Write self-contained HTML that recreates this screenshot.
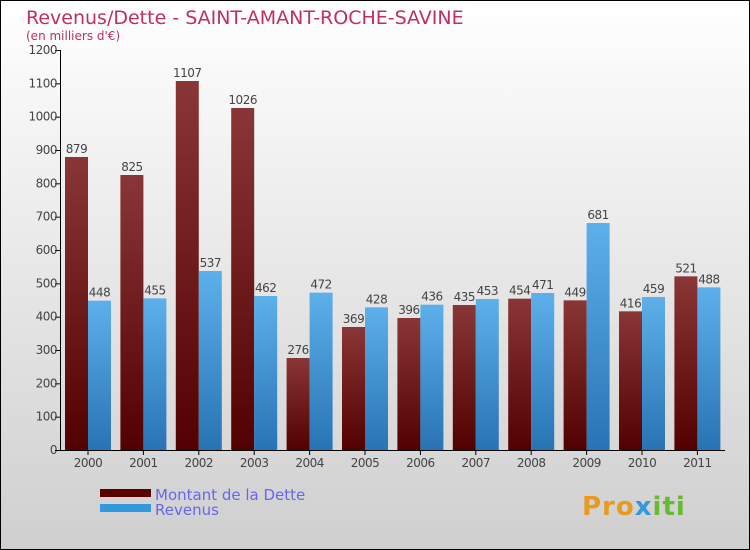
<!DOCTYPE html>
<html><head><meta charset="utf-8"><style>
body{margin:0}
svg{display:block;font-family:"DejaVu Sans","Liberation Sans",sans-serif}
</style></head><body>
<svg id="chart" width="750" height="550" xmlns="http://www.w3.org/2000/svg">
<defs>
<linearGradient id="bg" x1="0" y1="0" x2="0" y2="1"><stop offset="0" stop-color="#ffffff"/><stop offset="1" stop-color="#cfcfcf"/></linearGradient>
<linearGradient id="gd" x1="0" y1="0" x2="0" y2="1"><stop offset="0" stop-color="#8a3636"/><stop offset="1" stop-color="#520000"/></linearGradient>
<linearGradient id="gr" x1="0" y1="0" x2="0" y2="1"><stop offset="0" stop-color="#5db0ea"/><stop offset="1" stop-color="#2873b4"/></linearGradient>
</defs>
<rect x="0.5" y="0.5" width="749" height="549" fill="url(#bg)" stroke="#000"/>
<text x="26" y="24" font-size="19" fill="#c0305a">Revenus/Dette - SAINT-AMANT-ROCHE-SAVINE</text>
<text x="26" y="40" font-size="12" fill="#c0305a">(en milliers d'€)</text>
<g id="grid"></g>
<g id="bars"></g>
<line x1="60.5" y1="50" x2="60.5" y2="451" stroke="#000"/>
<line x1="55" y1="450.5" x2="725" y2="450.5" stroke="#000"/>
<rect x="100" y="489" width="51" height="8" fill="#5a0000"/>
<rect x="100" y="504" width="51" height="8" fill="#3399dd"/>
<text x="155" y="500" font-size="15" fill="#6666ee">Montant de la Dette</text>
<text x="155" y="515" font-size="15" fill="#6666ee">Revenus</text>
<text x="582" y="515" font-size="26" font-weight="bold" fill="#e89a20" letter-spacing="1">Pro<tspan fill="#3399dd">x</tspan><tspan fill="#66bb33">iti</tspan></text>
</svg>
<script>
const years=["2000","2001","2002","2003","2004","2005","2006","2007","2008","2009","2010","2011"];
const dette=[879,825,1107,1026,276,369,396,435,454,449,416,521];
const revenus=[448,455,537,462,472,428,436,453,471,681,459,488];
const yTicks=[0,100,200,300,400,500,600,700,800,900,1000,1100,1200];
const NS="http://www.w3.org/2000/svg";
const y=v=>450-v*400/1200;
const x0=i=>65+i*55.4;
function mk(t,a,p,txt){const e=document.createElementNS(NS,t);for(const k in a)e.setAttribute(k,a[k]);if(txt!==undefined)e.textContent=txt;p.appendChild(e);return e;}
const g=document.getElementById('grid'),b=document.getElementById('bars');
yTicks.forEach(v=>{
 const l=mk('line',{x1:55,x2:60,y1:y(v)+0.5,y2:y(v)+0.5,stroke:'#000'},g);
 
 
 const t=mk('text',{x:57,y:y(v)+4,'font-size':12,fill:'#444','text-anchor':'end','letter-spacing':'-0.5'},g,v);
 
 
});
years.forEach((yr,i)=>{
 const xd=x0(i);
 const r1=mk('rect',{x:xd,y:y(dette[i]),width:23,height:450-y(dette[i]),fill:'url(#gd)'},b);
 
 
 const r2=mk('rect',{x:xd+23,y:y(revenus[i]),width:23,height:450-y(revenus[i]),fill:'url(#gr)'},b);
 
 
 const t1=mk('text',{x:xd+11.5,y:y(dette[i])-4,'font-size':12,fill:'#444','text-anchor':'middle','letter-spacing':'-0.5'},b,dette[i]);
 
 
 const t2=mk('text',{x:xd+34.5,y:y(revenus[i])-4,'font-size':12,fill:'#444','text-anchor':'middle','letter-spacing':'-0.5'},b,revenus[i]);
 
 
 const tk=mk('line',{x1:xd+23,x2:xd+23,y1:450,y2:455,stroke:'#000'},b);
 
 
 const xl=mk('text',{x:xd+23,y:467,'font-size':12,fill:'#444','text-anchor':'middle','letter-spacing':'-0.5'},b,yr);
 
 
});
</script>
</body></html>
